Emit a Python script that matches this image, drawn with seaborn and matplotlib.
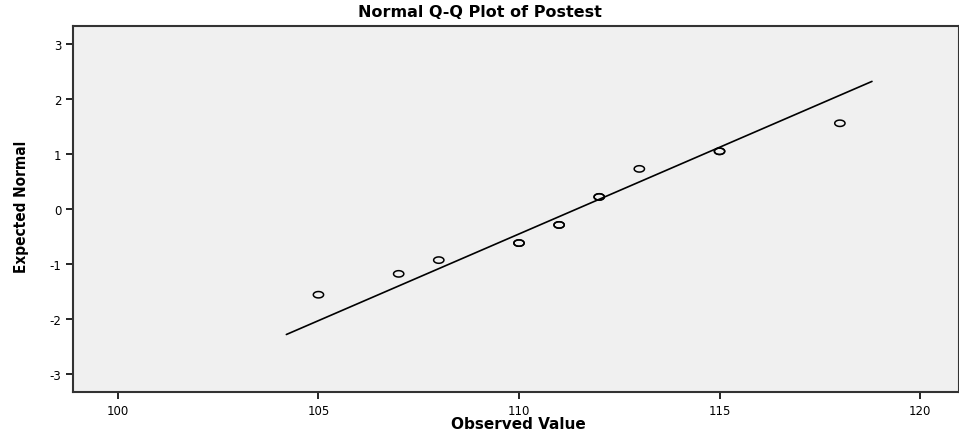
import numpy as np
import pandas as pd
import matplotlib
matplotlib.use("Agg")
import matplotlib.pyplot as plt
from matplotlib.path import Path
import seaborn as sns

# observed values (duplicates drawn on top of each other) and expected normal
observed = [105, 107, 108, 110, 110, 111, 111, 112, 112, 113, 115, 115, 118]
expected = [-1.56, -1.18, -0.93, -0.62, -0.62, -0.29, -0.29, 0.22, 0.22, 0.73, 1.05, 1.05, 1.56]

# reference line: normal with these parameters
line_mean = 111.44
line_sd = 3.17
line_x = [104.2, 118.8]

df = pd.DataFrame({"Observed": observed, "Expected": expected})
line_df = pd.DataFrame({"x": line_x})
line_df["y"] = (line_df["x"] - line_mean) / line_sd

sns.set_theme(style="ticks")
plt.rcParams["font.family"] = ["DejaVu Sans"]
plt.rcParams["text.color"] = "black"
plt.rcParams["axes.labelcolor"] = "black"
plt.rcParams["axes.unicode_minus"] = False

# SPSS draws its open circles slightly squashed
t = np.linspace(0, 2 * np.pi, 40)
ellipse = Path(np.column_stack([np.cos(t), 0.62 * np.sin(t)]), closed=True)

fig = plt.figure(figsize=(9.59, 4.39), dpi=100)
ax = fig.add_axes([0.0761, 0.1048, 0.9239, 0.8337])
ax.set_facecolor("#F0F0F0")

sns.lineplot(data=line_df, x="x", y="y", ax=ax, color="black", linewidth=1.2)
sns.scatterplot(data=df, x="Observed", y="Expected", ax=ax, marker=ellipse,
                facecolor="none", edgecolor="black", linewidth=1.1, s=55)

ax.set_xlim(98.88, 120.97)
ax.set_ylim(-3.33, 3.33)
ax.set_xticks([100, 105, 110, 115, 120])
ax.set_yticks([-3, -2, -1, 0, 1, 2, 3])
ax.tick_params(direction="out", length=5, width=1.2, labelsize=8.5, colors="black")
for s in ax.spines.values():
    s.set_linewidth(1.5)
    s.set_color("#333333")

ax.set_xlabel("")
ax.set_ylabel("")
fig.text(0.541, 0.032, "Observed Value", ha="center", va="center",
         fontsize=11, fontweight="bold")
fig.text(0.022, 0.528, "Expected Normal", ha="center", va="center", rotation=90,
         fontsize=11, fontweight="bold", fontstretch="condensed",
         family=["DejaVu Sans Condensed", "DejaVu Sans"])
fig.text(0.5, 0.972, "Normal Q-Q Plot of Postest", ha="center", va="center",
         fontsize=11.5, fontweight="bold")

fig.savefig("out.png", dpi=100)
